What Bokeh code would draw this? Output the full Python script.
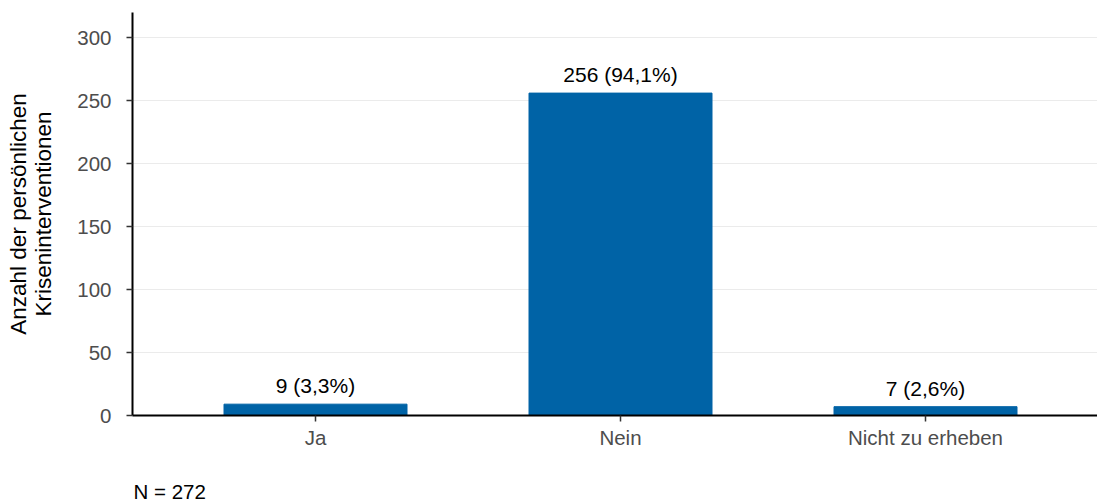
from bokeh.plotting import figure
from bokeh.layouts import column
from bokeh.models import Range1d, FixedTicker, ColumnDataSource
from bokeh.embed import file_html
from bokeh.resources import INLINE
from bokeh.core.properties import value

categories = ["Ja", "Nein", "Nicht zu erheben"]
counts = [9, 256, 7]
labels = ["9 (3,3%)", "256 (94,1%)", "7 (2,6%)"]
y_ticks = [0, 50, 100, 150, 200, 250, 300]
caption = "N = 272"

FONT = "Liberation Sans"
FS = "20.5px"
xs = list(range(1, len(categories) + 1))

src = ColumnDataSource(dict(x=xs, top=counts, label=labels))

p = figure(width=1097, height=460, output_backend="svg", toolbar_location=None,
           x_range=Range1d(0.4, 0.4 + 965 / 305), y_range=Range1d(0, 320),
           min_border_left=132, min_border_right=0, min_border_top=12, min_border_bottom=45)
p.outline_line_color = None
p.background_fill_color = "white"

p.vbar(x="x", top="top", width=0.6, source=src, color="#0063A6")
p.text(x="x", y="top", text="label", source=src, text_align="center", text_baseline="bottom",
       y_offset=-7, text_font=value(FONT), text_font_size="21px", text_color="black")

p.xgrid.grid_line_color = None
p.ygrid.grid_line_color = "#ebebeb"
p.ygrid.grid_line_width = 1

p.yaxis.ticker = FixedTicker(ticks=y_ticks)
p.xaxis.ticker = FixedTicker(ticks=xs)
p.xaxis.major_label_overrides = {x: c for x, c in zip(xs, categories)}

for ax in (p.xaxis[0], p.yaxis[0]):
    ax.axis_line_color = "black"
    ax.axis_line_width = 2
    ax.major_tick_line_color = "#333333"
    ax.major_tick_line_width = 1.5
    ax.major_tick_out = 6
    ax.major_tick_in = 0
    ax.minor_tick_line_color = None
    ax.major_label_text_font = FONT
    ax.major_label_text_font_size = FS
    ax.major_label_text_color = "#4d4d4d"
    ax.axis_label_text_font = FONT
    ax.axis_label_text_font_size = "22.5px"
    ax.axis_label_text_font_style = "normal"
    ax.axis_label_text_color = "black"
    ax.axis_label_text_line_height = 1.0

p.yaxis.major_label_standoff = 15
p.xaxis.major_label_standoff = 4
p.yaxis.axis_label = "Anzahl der persönlichen\nKriseninterventionen"
p.yaxis.axis_label_standoff = 18

# caption strip below the chart (its frame aligns with the main frame)
cap_h = 42
p2 = figure(width=1097, height=cap_h, output_backend="svg", toolbar_location=None,
            x_range=p.x_range, y_range=Range1d(0, cap_h),
            x_axis_location=None, y_axis_location=None,
            min_border=0, min_border_left=0, min_border_right=0, min_border_top=0, min_border_bottom=0)
p2.grid.visible = False
p2.outline_line_color = None
p2.text(x=[p.x_range.start], y=[11], text=[caption], text_align="left", text_baseline="middle",
        x_offset=1, text_font=value(FONT), text_font_size=FS, text_color="black")

layout = column(p, p2, spacing=0)
open("out.html", "w").write(file_html(layout, INLINE))
